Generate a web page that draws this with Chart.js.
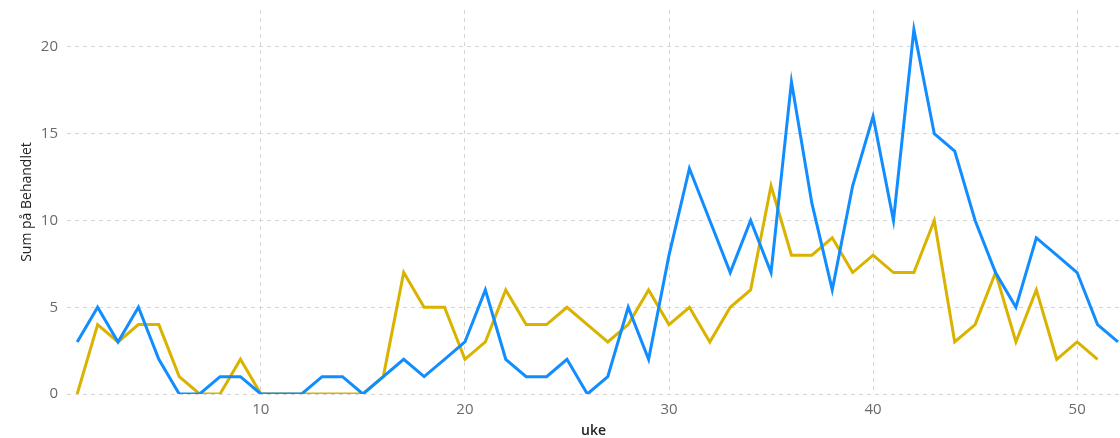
<!DOCTYPE html>
<html>
<head>
<meta charset="utf-8">
<script src="https://cdn.jsdelivr.net/npm/chart.js@4"></script>
<style>
  html, body { margin: 0; padding: 0; background: #ffffff; }
  #wrap { width: 1120px; height: 438px; position: relative; }
</style>
</head>
<body>
<div id="wrap"><canvas id="c" width="1120" height="438"></canvas></div>
<script>
const weeks = [1,2,3,4,5,6,7,8,9,10,11,12,13,14,15,16,17,18,19,20,21,22,23,24,25,26,27,28,29,30,31,32,33,34,35,36,37,38,39,40,41,42,43,44,45,46,47,48,49,50,51,52];
const seriesBlue = [3,5,3,5,2,0,0,1,1,0,0,0,1,1,0,1,2,1,2,3,6,2,1,1,2,0,1,5,2,8,13,10,7,10,7,18,11,6,12,16,10,21,15,14,10,7,5,9,8,7,4,3];
const seriesYellow = [0,4,3,4,4,1,0,0,2,0,0,0,0,0,0,1,7,5,5,2,3,6,4,4,5,4,3,4,6,4,5,3,5,6,12,8,8,9,7,8,7,7,10,3,4,7,3,6,2,3,2,null];
const xTickValues = [10,20,30,40,50];
const yTickValues = [0,5,10,15,20];
const xTitle = 'uke';
const yTitle = 'Sum på Behandlet';

const toPoints = arr => weeks.map((w, i) => ({x: w, y: arr[i]}));

const FONT = '"Open Sans", "Noto Sans", "DejaVu Sans", sans-serif';
const gridColor = '#d6d6d6';

new Chart(document.getElementById('c'), {
  type: 'line',
  data: {
    datasets: [
      { data: toPoints(seriesBlue), borderColor: '#118DFF', borderWidth: 3, pointRadius: 0, tension: 0, spanGaps: false },
      { data: toPoints(seriesYellow), borderColor: '#D9B300', borderWidth: 3, pointRadius: 0, tension: 0, spanGaps: false }
    ]
  },
  options: {
    responsive: false,
    animation: false,
    layout: { padding: { left: 19, right: 0, top: 10, bottom: 0 } },
    plugins: { legend: { display: false }, tooltip: { enabled: false } },
    scales: {
      x: {
        type: 'linear',
        min: 0.5,
        max: 52.1,
        afterBuildTicks: s => { s.ticks = xTickValues.map(v => ({value: v})); },
        afterFit: s => { s.height = 44; s.paddingLeft = 0; s.paddingRight = 0; },
        grid: { color: gridColor, lineWidth: 1, drawTicks: false },
        border: { display: false, dash: [4, 4] },
        ticks: { color: '#6a6a6a', font: { family: FONT, size: 15 }, padding: 7, maxRotation: 0 },
        title: { display: true, text: xTitle, color: '#252423', font: { family: FONT, size: 14, weight: '600', lineHeight: 1 }, padding: 0 }
      },
      y: {
        type: 'linear',
        min: 0,
        max: 22.13,
        afterBuildTicks: s => { s.ticks = yTickValues.map(v => ({value: v})); },
        afterFit: s => { s.width = 48; s.paddingTop = 0; s.paddingBottom = 0; },
        grid: { color: gridColor, lineWidth: 1, drawTicks: false },
        border: { display: false, dash: [4, 4] },
        ticks: { color: '#6a6a6a', font: { family: FONT, size: 15 }, padding: 9 },
        title: { display: true, text: yTitle, color: '#252423', font: { family: FONT, size: 14, weight: '500', lineHeight: 1.1 }, padding: 0 }
      }
    }
  }
});
</script>
</body>
</html>
